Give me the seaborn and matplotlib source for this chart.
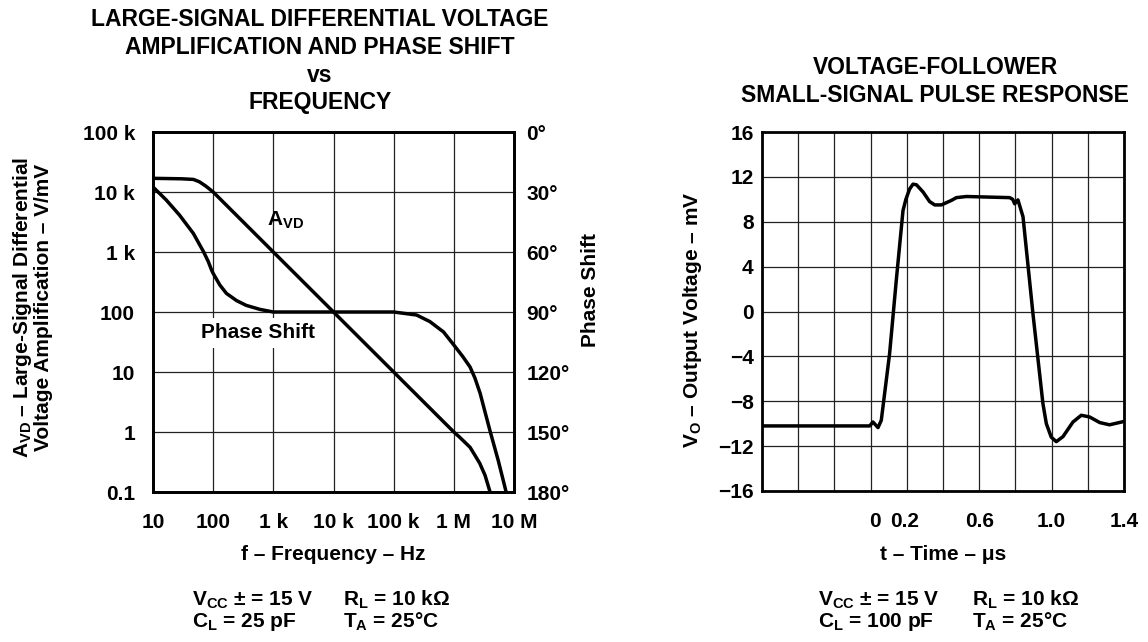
import matplotlib
matplotlib.use('Agg')
import matplotlib.pyplot as plt
import matplotlib.transforms as mtrans
import seaborn as sns

# levy graf: zesileni A_VD a fazovy posun podle frekvence
frekvence_avd = [10, 30, 47, 59, 75, 100, 1e3, 1e4, 1e5, 1e6, 1.23e6, 1.49e6, 1.86e6,
                 2.24e6, 2.7e6, 3.3e6, 3.7e6, 4.0e6]
zesileni_avd = [16900, 16600, 16200, 14800, 12600, 10000, 1000, 100, 10, 1, 0.83, 0.69, 0.556,
                0.41, 0.30, 0.19, 0.13, 0.1]

frekvence_faze = [10, 16.6, 27.5, 46.8, 69, 83, 94, 100, 129, 166, 245, 355, 600, 1000,
                  1e5, 2.4e5, 4e5, 6.75e5, 1e6, 1.41e6, 1.86e6, 2.24e6, 2.74e6, 3.3e6,
                  4e6, 5.5e6, 7.4e6]
faze_stupne = [27.5, 34, 41.5, 50.7, 59.8, 64.8, 69, 70.7, 76.5, 80.7, 84.3, 86.7, 88.7, 90,
               90, 91.5, 94.8, 100, 106.5, 112.3, 117.5, 123, 130.7, 140,
               149.5, 164.5, 180]

f_ticks = [10, 100, 1e3, 1e4, 1e5, 1e6, 1e7]
f_labels = ['10', '100', '1 k', '10 k', '100 k', '1 M', '10 M']
avd_ticks = [0.1, 1, 10, 100, 1e3, 1e4, 1e5]
avd_labels = ['0.1', '1', '10', '100', '1 k', '10 k', '100 k']
faze_ticks = [0, 30, 60, 90, 120, 150, 180]
faze_labels = ['0°', '30°', '60°', '90°', '120°', '150°', '180°']

# pravy graf: odezva sledovace napeti na maly puls
cas_us = [-0.6, -0.005, 0.013, 0.041, 0.059, 0.105, 0.142, 0.179, 0.195, 0.215, 0.234, 0.253,
          0.29, 0.326, 0.354, 0.391, 0.446, 0.474, 0.529, 0.768, 0.785, 0.796, 0.814,
          0.842, 0.897, 0.952, 0.971, 0.998, 1.026, 1.063, 1.118, 1.164, 1.21, 1.266,
          1.32, 1.4]
napeti_mv = [-10.2, -10.2, -9.85, -10.35, -9.7, -3.75, 2.8, 9.0, 10.0, 10.9, 11.35, 11.3,
             10.65, 9.8, 9.5, 9.5, 9.9, 10.15, 10.25, 10.15, 10.0, 9.6, 9.95,
             8.45, -0.2, -8.2, -10.0, -11.2, -11.6, -11.15, -9.85, -9.25, -9.4, -9.9,
             -10.1, -9.8]

cas_ticks = [-0.6, -0.4, -0.2, 0.0, 0.2, 0.4, 0.6, 0.8, 1.0, 1.2, 1.4]
cas_labels = ['', '', '', '0', '0.2', '', '0.6', '', '1.0', '', '1.4']
napeti_ticks = [-16, -12, -8, -4, 0, 4, 8, 12, 16]
napeti_labels = ['\u221216', '\u221212', '\u22128', '\u22124', '0', '4', '8', '12', '16']

sns.set_style('white')
plt.rcParams['font.family'] = ['Liberation Sans', 'DejaVu Sans']
plt.rcParams['font.weight'] = 'bold'
plt.rcParams['axes.labelweight'] = 'bold'
plt.rcParams['mathtext.fontset'] = 'custom'
plt.rcParams['mathtext.rm'] = 'Liberation Sans:bold'
plt.rcParams['mathtext.it'] = 'Liberation Sans:bold'
plt.rcParams['mathtext.bf'] = 'Liberation Sans:bold'
for k in ['text.color', 'axes.labelcolor', 'xtick.color', 'ytick.color', 'axes.edgecolor']:
    plt.rcParams[k] = 'black'

W, H = 1148, 642
fig = plt.figure(figsize=(W / 100, H / 100), dpi=100)

def osy(x0, y0, x1, y1):
    # pozice v pixelech -> zlomky obrazku
    return fig.add_axes([x0 / W, 1 - y1 / H, (x1 - x0) / W, (y1 - y0) / H])

FS = 15
lw_cara = 2.5
lw_ramec = 2.0
lw_mriz = 0.9

# ---------- levy graf ----------
ax1 = osy(153, 132, 514, 492)
ax1.set_xscale('log')
ax1.set_yscale('log')
ax2 = ax1.twinx()

sns.lineplot(x=frekvence_avd, y=zesileni_avd, ax=ax1, color='black', lw=lw_cara,
             estimator=None, sort=False)
sns.lineplot(x=frekvence_faze, y=faze_stupne, ax=ax2, color='black', lw=lw_cara,
             estimator=None, sort=False)
ax1.set_xlim(10, 1e7)
ax1.set_ylim(0.1, 1e5)
ax2.set_ylim(180, 0)

ax1.set_xticks(f_ticks, f_labels)
ax1.set_yticks(avd_ticks, avd_labels)
ax1.minorticks_off()
ax2.set_yticks(faze_ticks, faze_labels)
ax1.grid(True, color='#222222', lw=lw_mriz)
ax1.tick_params(axis='x', length=0, pad=15, labelsize=FS)
ax1.tick_params(axis='y', length=0, pad=13, labelsize=FS)
ax2.tick_params(axis='y', length=0, pad=9, labelsize=FS)

ax1.set_xlabel('f – Frequency – Hz', fontsize=FS, va='center')
ax1.xaxis.set_label_coords(0.5, (492 - 555) / 360)
ax1.set_ylabel('A$_{VD}$ – Large-Signal Differential\nVoltage Amplification – V/mV',
               fontsize=FS, va='center', linespacing=1.0)
ax1.yaxis.set_label_coords((32 - 153) / 361, (492 - 307) / 360)
ax2.set_ylabel('Phase Shift', fontsize=FS, va='center')
ax2.yaxis.set_label_coords((590 - 153) / 361, (492 - 290) / 360)

ax1.text(790, 3400, 'A$_{VD}$', fontsize=FS, ha='left', va='center')
ax2.text(560, 100.5, 'Phase Shift', fontsize=FS, ha='center', va='center',
         bbox=dict(facecolor='white', edgecolor='none', pad=4))

for ax in (ax1, ax2):
    for s in ax.spines.values():
        s.set_linewidth(lw_ramec)
        s.set_color('black')

# ---------- pravy graf ----------
ax3 = osy(762, 132, 1124, 491)
sns.lineplot(x=cas_us, y=napeti_mv, ax=ax3, color='black', lw=lw_cara,
             estimator=None, sort=False)
ax3.set_xlim(-0.6, 1.4)
ax3.set_ylim(-16, 16)
ax3.set_xticks(cas_ticks, cas_labels)
ax3.set_yticks(napeti_ticks, napeti_labels)
ax3.grid(True, color='#222222', lw=lw_mriz)
ax3.tick_params(axis='x', length=0, pad=15, labelsize=FS)
ax3.tick_params(axis='y', length=0, pad=6, labelsize=FS)
ax3.set_xlabel('t – Time – μs', fontsize=FS, va='center')
ax3.xaxis.set_label_coords(0.5, (491 - 555) / 359)
ax3.set_ylabel('V$_{O}$ – Output Voltage – mV', fontsize=FS, va='center')
ax3.yaxis.set_label_coords((692 - 762) / 362, (491 - 320) / 359)
for s in ax3.spines.values():
    s.set_linewidth(lw_ramec)
    s.set_color('black')

# popisky "0" a "0.2" jsou v originale kousek od sebe odsunute
fig.canvas.draw()
posun = {'0': 0.045, '0.2': -0.02}
for tick in ax3.xaxis.get_major_ticks():
    txt = tick.label1.get_text()
    if txt in posun:
        tick.label1.set_transform(tick.label1.get_transform()
                                  + mtrans.ScaledTranslation(posun[txt], 0, fig.dpi_scale_trans))

# ---------- nadpisy ----------
TS = 16.5
for radek, y in zip(['LARGE-SIGNAL DIFFERENTIAL VOLTAGE', 'AMPLIFICATION AND PHASE SHIFT',
                     'vs', 'FREQUENCY'], [20, 47, 75, 103]):
    fig.text(320 / W, 1 - y / H, radek, fontsize=TS, ha='center', va='center')
for radek, y in zip(['VOLTAGE-FOLLOWER', 'SMALL-SIGNAL PULSE RESPONSE'], [67, 95]):
    fig.text(935 / W, 1 - y / H, radek, fontsize=TS, ha='center', va='center')

# ---------- podminky mereni ----------
def podminky(x_a, x_b, cl):
    fig.text(x_a / W, 1 - 600 / H, 'V$_{CC}$ ± = 15 V', fontsize=FS, ha='left', va='center')
    fig.text(x_b / W, 1 - 600 / H, 'R$_{L}$ = 10 kΩ', fontsize=FS, ha='left', va='center')
    fig.text(x_a / W, 1 - 622 / H, 'C$_{L}$ = ' + cl, fontsize=FS, ha='left', va='center')
    fig.text(x_b / W, 1 - 622 / H, 'T$_{A}$ = 25°C', fontsize=FS, ha='left', va='center')

podminky(192, 343, '25 pF')
podminky(818, 972, '100 pF')

fig.savefig('out.png', dpi=100)
